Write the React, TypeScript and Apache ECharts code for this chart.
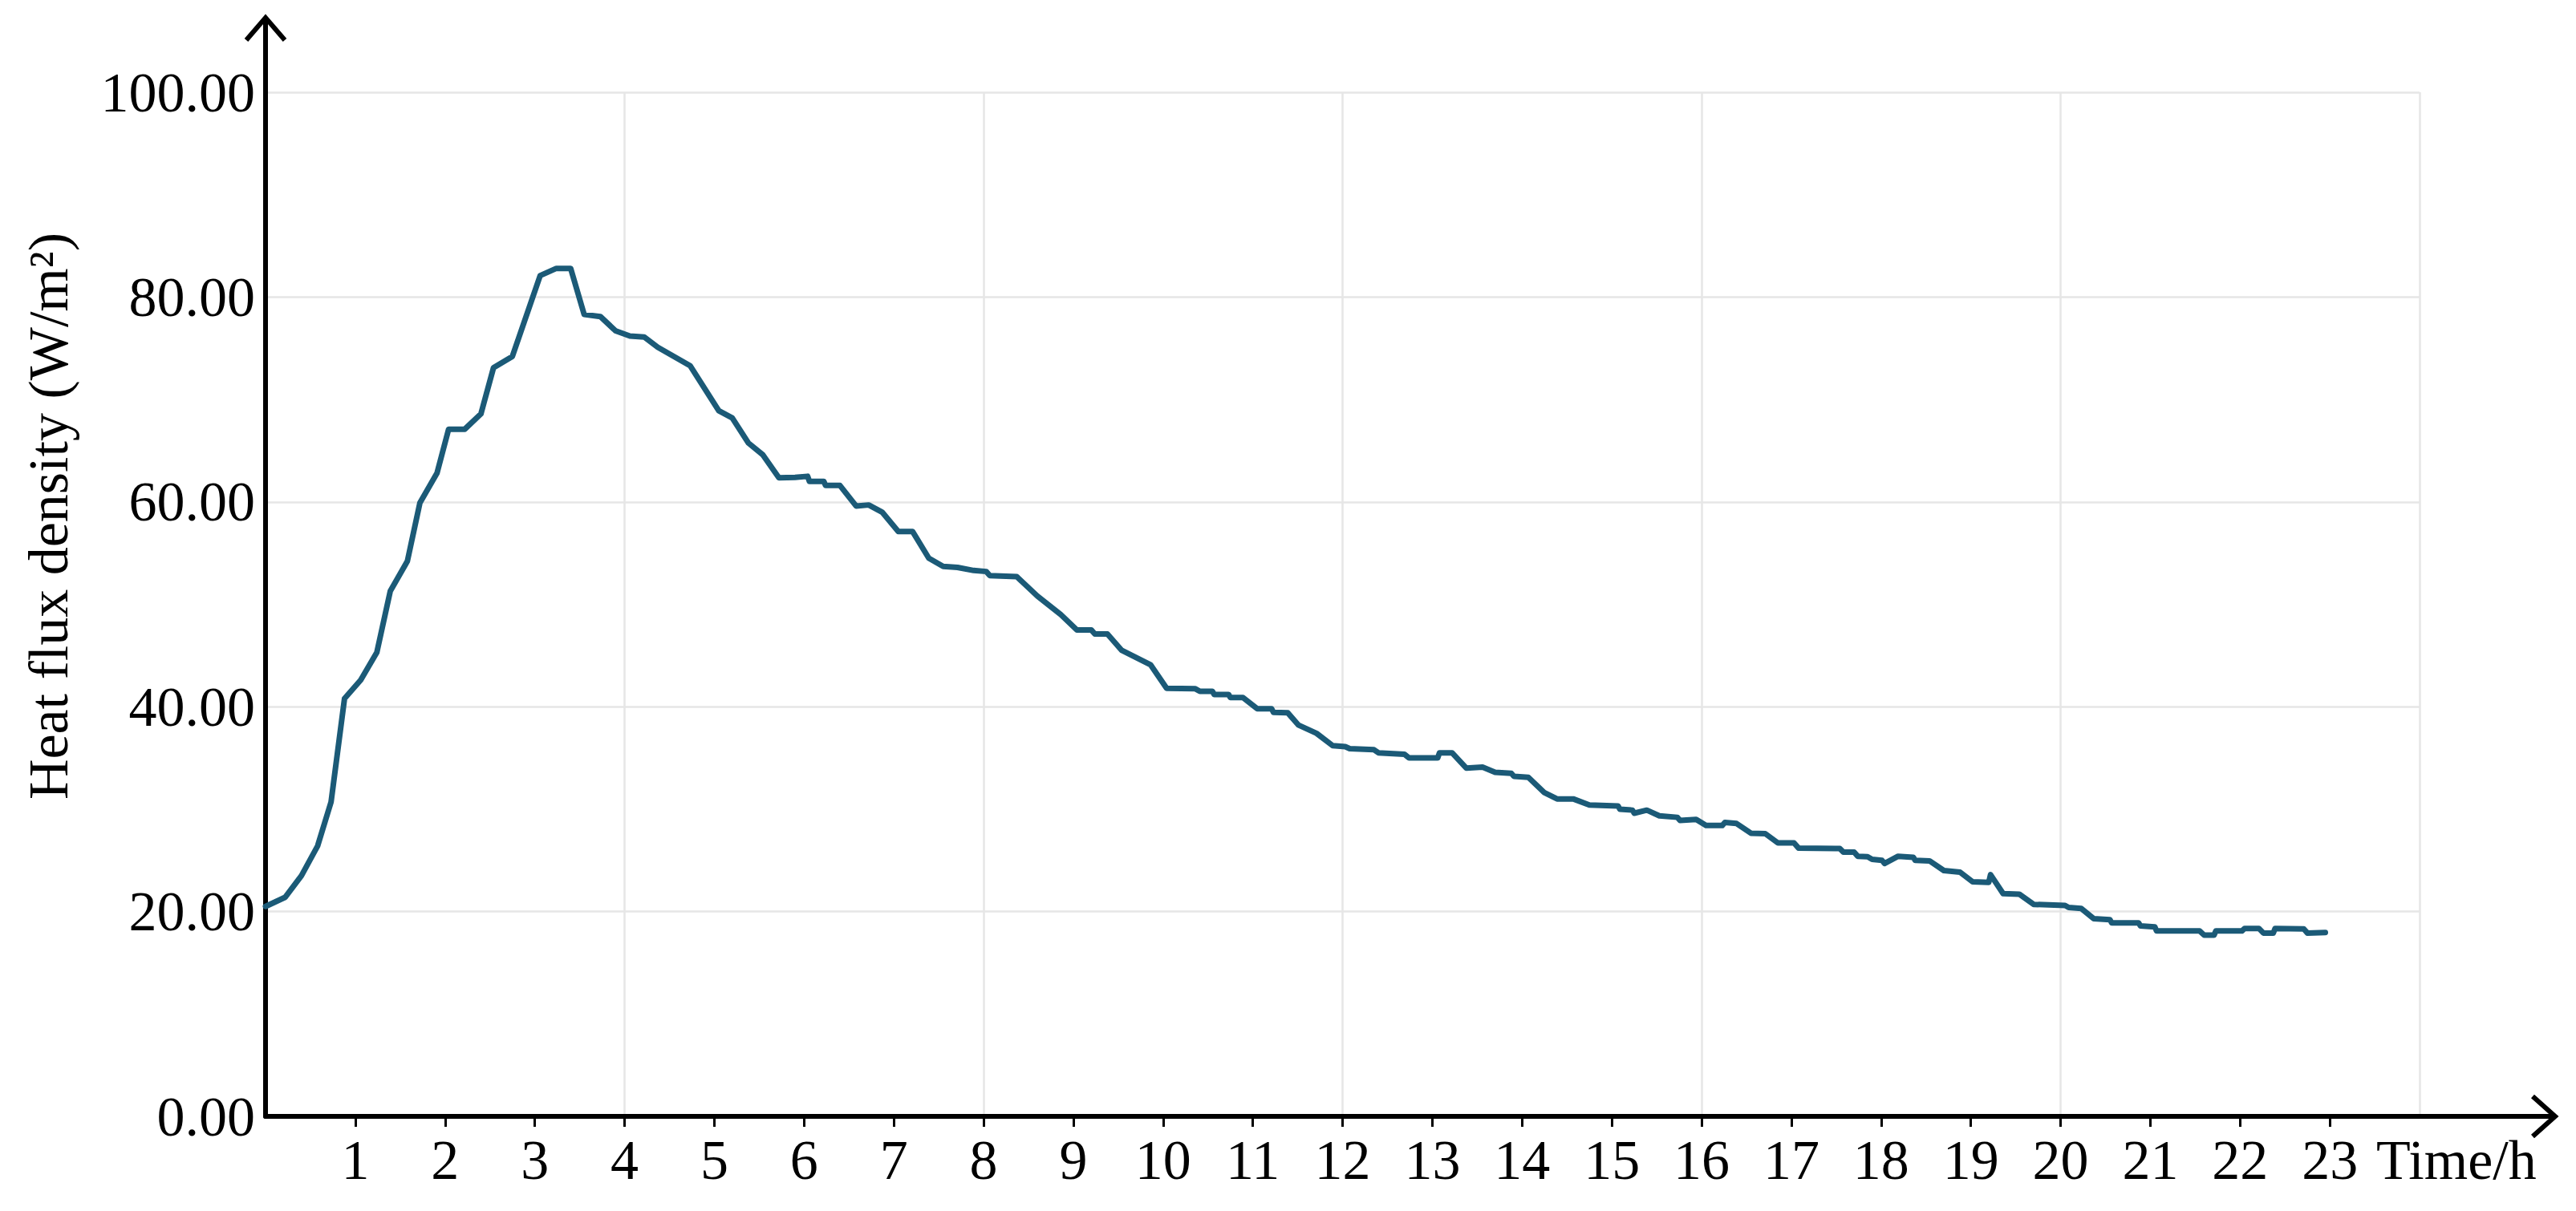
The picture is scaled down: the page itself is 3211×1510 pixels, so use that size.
import React, { useEffect, useRef } from 'react';
import * as echarts from 'echarts';

// Time (h) of each sampled point
const hours = [
  0.0, 0.22, 0.4, 0.58, 0.73, 0.88, 1.06, 1.24, 1.39, 1.58, 1.72, 1.91, 2.04, 2.22, 2.4, 2.54, 2.75,
  3.06, 3.24, 3.4, 3.55, 3.73, 3.9, 4.06, 4.22, 4.37,
  4.73, 5.05, 5.2, 5.38, 5.54, 5.72, 5.9, 6.04, 6.06, 6.22, 6.24, 6.4, 6.58, 6.72, 6.87, 7.05, 7.21,
  7.39, 7.55, 7.71, 7.89, 8.03, 8.07, 8.37, 8.6, 8.86, 9.04, 9.2, 9.24, 9.38, 9.54, 9.86,
  10.04, 10.36, 10.41, 10.55, 10.57, 10.73, 10.75, 10.89, 11.05, 11.21, 11.23, 11.39, 11.51, 11.71,
  11.89, 12.03, 12.08, 12.35, 12.4, 12.69, 12.74, 13.06, 13.08, 13.22, 13.38, 13.56, 13.7, 13.88,
  13.91, 14.07, 14.25, 14.39, 14.57, 14.75, 15.07, 15.09, 15.23, 15.25, 15.39, 15.53, 15.73, 15.76,
  15.94, 16.05, 16.23, 16.26, 16.39, 16.55, 16.71,
  16.85, 17.03, 17.08, 17.54, 17.58, 17.7, 17.74, 17.85, 17.9, 18.01, 18.04, 18.19, 18.36, 18.38,
  18.54, 18.7, 18.88, 19.02, 19.2, 19.22, 19.36, 19.54, 19.7, 20.05, 20.09, 20.23, 20.37, 20.55,
  20.57, 20.87, 20.89, 21.05, 21.07, 21.55, 21.6, 21.71, 21.73, 22.02, 22.05, 22.21, 22.26, 22.37,
  22.39, 22.71, 22.75, 22.95,
];

// Heat flux density (W/m²) at each sampled time
const flux = [
  20.5, 21.4, 23.5, 26.4, 30.7, 40.8, 42.6, 45.3, 51.3, 54.2, 59.9, 62.8, 67.1, 67.1, 68.6, 73.1, 74.2,
  82.1, 82.8, 82.8, 78.3, 78.1, 76.7, 76.2, 76.1, 75.1,
  73.3, 68.9, 68.2, 65.75, 64.6, 62.35, 62.4, 62.5, 62.0, 62.0, 61.6, 61.6, 59.6, 59.7, 59.0, 57.1, 57.1,
  54.5, 53.7, 53.6, 53.3, 53.2, 52.8, 52.7, 50.8, 49.0, 47.5, 47.5, 47.1, 47.1, 45.5, 44.1,
  41.8, 41.75, 41.5, 41.5, 41.2, 41.2, 40.9, 40.9, 39.8, 39.8, 39.45, 39.4, 38.2, 37.4,
  36.2, 36.1, 35.9, 35.8, 35.5, 35.35, 35.0, 35.0, 35.5, 35.5, 34.0, 34.1, 33.6, 33.5,
  33.2, 33.1, 31.6, 31.0, 31.0, 30.4, 30.3, 30.0, 29.9, 29.6, 29.9, 29.35, 29.2, 28.9,
  29.0, 28.4, 28.4, 28.7, 28.6, 27.65, 27.6,
  26.7, 26.7, 26.2, 26.15, 25.8, 25.8, 25.4, 25.35, 25.1, 25.0, 24.7, 25.4, 25.3, 25.0,
  24.95, 24.0, 23.85, 22.9, 22.85, 23.6, 21.75, 21.7, 20.7, 20.6, 20.4, 20.3, 19.3, 19.2,
  18.9, 18.9, 18.6, 18.5, 18.1, 18.1, 17.7, 17.7, 18.1, 18.1, 18.35, 18.35, 17.9, 17.9,
  18.35, 18.3, 17.9, 17.95,
];

// Labelled hour ticks on the time axis
const xTickValues = [1, 2, 3, 4, 5, 6, 7, 8, 9, 10, 11, 12, 13, 14, 15, 16, 17, 18, 19, 20, 21, 22, 23];

// Axis ranges
const xMin = 0;
const xMax = 24;
const xGridStep = 4;
const yMin = 0;
const yMax = 100;
const yStep = 20;

const xName = 'Time/h';
const yName = 'Heat flux density (W/m²)';

export default function App() {
  const ref = useRef<HTMLDivElement>(null);

  useEffect(() => {
    if (!ref.current) return;
    const chart = echarts.init(ref.current, null, { renderer: 'svg' });
    const font = '"Liberation Serif", "Times New Roman", Times, serif';
    const fontSize = 70;
    const axisW = 6;
    const gridLine = { color: '#e6e6e6', width: 2.5 };

    const data = hours.map((h, i) => [h, flux[i]]);

    chart.setOption({
      animation: false,
      backgroundColor: '#ffffff',
      textStyle: { fontFamily: font },
      grid: {
        left: 331,
        right: 195,
        top: 115,
        bottom: 118,
        containLabel: false,
        outerBoundsMode: 'none',
      },
      xAxis: [
        {
          type: 'value',
          min: xMin,
          max: xMax,
          interval: 1,
          position: 'bottom',
          axisLine: { show: true, onZero: false, lineStyle: { color: '#000', width: axisW } },
          axisTick: {
            show: true,
            customValues: xTickValues,
            length: 13,
            lineStyle: { color: '#000', width: 3 },
          },
          axisLabel: {
            show: true,
            customValues: xTickValues,
            margin: 19,
            fontFamily: font,
            fontSize: fontSize,
            color: '#000',
          },
          splitLine: { show: false },
        },
        {
          // vertical grid every 4 hours
          type: 'value',
          min: xMin,
          max: xMax,
          interval: xGridStep,
          position: 'bottom',
          axisLine: { show: false },
          axisTick: { show: false },
          axisLabel: { show: false },
          splitLine: { show: true, showMinLine: false, lineStyle: gridLine },
        },
      ],
      yAxis: {
        type: 'value',
        min: yMin,
        max: yMax,
        interval: yStep,
        name: yName,
        nameLocation: 'middle',
        nameRotate: 90,
        nameGap: 236,
        nameMoveOverlap: false,
        nameTextStyle: {
          fontFamily: font,
          fontSize: fontSize,
          color: '#000',
          padding: [0, 0, 0, 220],
        },
        axisLine: { show: true, onZero: false, lineStyle: { color: '#000', width: axisW } },
        axisTick: { show: false },
        axisLabel: {
          show: true,
          margin: 13,
          fontFamily: font,
          fontSize: fontSize,
          color: '#000',
          formatter: (v: number) => v.toFixed(2),
        },
        splitLine: { show: true, showMinLine: false, lineStyle: gridLine },
      },
      series: [
        {
          type: 'line',
          xAxisIndex: 0,
          data: data,
          showSymbol: false,
          symbol: 'none',
          smooth: false,
          lineStyle: { color: '#1b5a77', width: 7, join: 'round', cap: 'round' },
          z: 3,
        },
      ],
    });

    // Axis extensions with open arrowheads and the time-axis title, positioned from the axis scales
    const origin = chart.convertToPixel({ gridIndex: 0 }, [xMin, yMin]) as number[];
    const xEnd = chart.convertToPixel({ gridIndex: 0 }, [xMax, yMin]) as number[];
    const yEnd = chart.convertToPixel({ gridIndex: 0 }, [xMin, yMax]) as number[];
    const yTip = yEnd[1] - 93;
    const xTip = xEnd[0] + 169;
    const stroke = { stroke: '#000', lineWidth: axisW, fill: null, lineCap: 'butt', lineJoin: 'miter' };

    chart.setOption({
      graphic: [
        {
          type: 'line',
          shape: { x1: origin[0], y1: yEnd[1] + 3, x2: origin[0], y2: yTip },
          style: stroke,
          z: 10,
        },
        {
          type: 'polyline',
          shape: { points: [[origin[0] - 24, yTip + 28], [origin[0], yTip], [origin[0] + 24, yTip + 28]] },
          style: stroke,
          z: 10,
        },
        {
          type: 'line',
          shape: { x1: xEnd[0] - 3, y1: origin[1], x2: xTip, y2: origin[1] },
          style: stroke,
          z: 10,
        },
        {
          type: 'polyline',
          shape: { points: [[xTip - 28, origin[1] - 25], [xTip, origin[1]], [xTip - 28, origin[1] + 25]] },
          style: stroke,
          z: 10,
        },
        {
          type: 'text',
          x: xEnd[0] - 54,
          y: origin[1] + 19,
          z: 10,
          style: {
            text: xName,
            font: `${fontSize}px ${font}`,
            fill: '#000',
            textAlign: 'left',
            textVerticalAlign: 'top',
            align: 'left',
            verticalAlign: 'top',
          },
        },
      ],
    });

    return () => {
      chart.dispose();
    };
  }, []);

  return (
    <div
      ref={ref}
      style={{ position: 'fixed', left: 0, top: 0, width: 3211, height: 1510, background: '#ffffff' }}
    />
  );
}
